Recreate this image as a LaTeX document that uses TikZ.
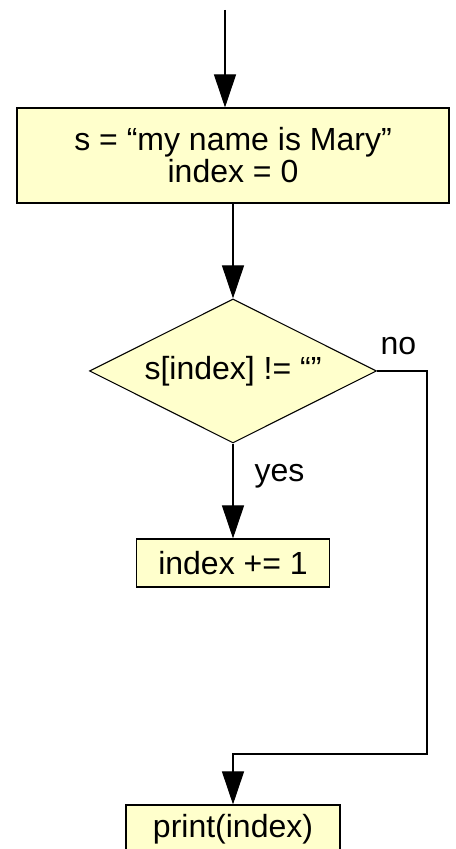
\documentclass[tikz,border=0pt]{standalone}
\usepackage{fontspec}
\setmainfont{Liberation Sans}
\usetikzlibrary{arrows.meta,shapes.geometric,positioning}
\definecolor{boxfill}{HTML}{FFFFCC}

\begin{document}
\begin{tikzpicture}[->,>={Triangle[length=24.75pt,width=16.5pt]},x=0.75pt,y=-0.75pt,
                    line width=0.8pt,node distance=150pt]
  \tikzstyle{every node}=[font=\fontsize{24}{24}\selectfont]
  \tikzstyle{block}=[rectangle,draw=black,fill=boxfill,align=center,inner sep=0pt]
  \tikzstyle{decision}=[diamond,draw=black,fill=boxfill,aspect=2,inner sep=0pt,
                        minimum width=215.25pt,minimum height=108pt]
  \tikzstyle{answer}=[inner sep=0pt]

  \useasboundingbox (0,0) rectangle (456,849);

  \node[block,minimum width=324pt,minimum height=71.25pt] (init) at (233,155.5)
        {s = “my name is Mary”\\index = 0};
  \node[decision] (test) [below of=init,node distance=161.6pt] {s[index] != “”};
  \node[block,minimum width=144.75pt,minimum height=36pt] (inc)
        [below of=test,node distance=144pt] {index += 1};
  \node[block,minimum width=160.5pt,minimum height=36pt] (out)
        [below of=inc,node distance=199.5pt] {print(index)};

  \coordinate (start) at (225,10);
  \coordinate (turn) at (427,754);

  \draw (start) -- (start |- init.north);
  \path
(init) edge      []        node {} (test)
(test) edge      []        node[answer,pos=0.4,anchor=base west,xshift=15.75pt] {yes} (inc)
;
  \draw (test.east) node[answer,anchor=base west,xshift=2.25pt,yshift=12pt] {no}
        -| (turn) -| (out.north);

\end{tikzpicture}
\end{document}
